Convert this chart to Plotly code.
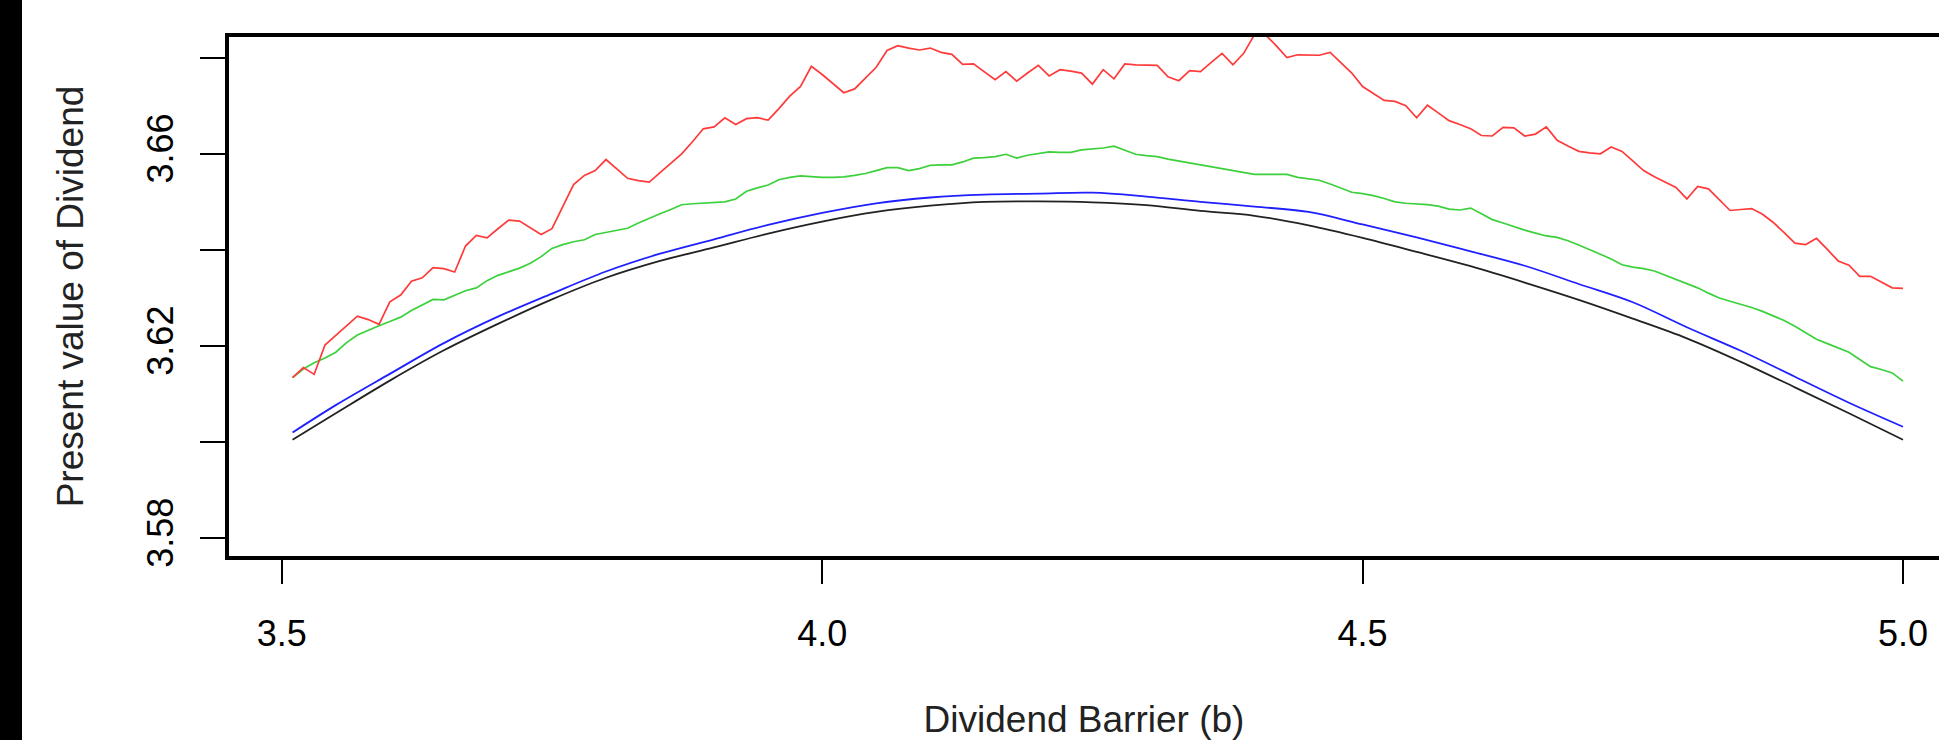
import plotly.graph_objects as go

# ---------------- data ----------------
x_smooth = [3.51, 3.55, 3.60, 3.65, 3.70, 3.75, 3.80, 3.85, 3.90, 3.95,
            4.00, 4.05, 4.10, 4.15, 4.20, 4.25, 4.30, 4.35, 4.40, 4.45,
            4.50, 4.55, 4.60, 4.65, 4.70, 4.75, 4.80, 4.85, 4.90, 4.95, 5.00]

black_vals = [3.6005, 3.6060, 3.6128, 3.6191, 3.6246, 3.6297, 3.6342, 3.6377, 3.6405, 3.6434,
              3.6459, 3.6479, 3.6492, 3.6500, 3.6501, 3.6499, 3.6493, 3.6481, 3.6471, 3.6451,
              3.6425, 3.6396, 3.6366, 3.6332, 3.6296, 3.6257, 3.6216, 3.6167, 3.6114, 3.6060, 3.6005]

blue_vals = [3.6020, 3.6077, 3.6142, 3.6206, 3.6261, 3.6309, 3.6355, 3.6392, 3.6422, 3.6452,
             3.6477, 3.6497, 3.6509, 3.6515, 3.6517, 3.6519, 3.6511, 3.6500, 3.6490, 3.6479,
             3.6453, 3.6426, 3.6397, 3.6367, 3.6329, 3.6291, 3.6239, 3.6190, 3.6136, 3.6082, 3.6032]

x_sim = [round(3.51 + 0.01 * i, 2) for i in range(150)]

red_vals = [
    3.6134, 3.6155, 3.6141, 3.6202, 3.6222, 3.6243, 3.6262, 3.6255, 3.6245, 3.6292,
    3.6306, 3.6335, 3.6342, 3.6363, 3.6361, 3.6354, 3.6408, 3.6430, 3.6425, 3.6444,
    3.6462, 3.6460, 3.6446, 3.6432, 3.6444, 3.6490, 3.6536, 3.6555, 3.6565, 3.6588,
    3.6568, 3.6549, 3.6544, 3.6541, 3.6561, 3.6580, 3.6600, 3.6625, 3.6652, 3.6656,
    3.6675, 3.6661, 3.6673, 3.6675, 3.6670, 3.6694, 3.6720, 3.6740, 3.6782, 3.6765,
    3.6745, 3.6727, 3.6735, 3.6757, 3.6780, 3.6815, 3.6825, 3.6820, 3.6816, 3.6820,
    3.6811, 3.6807, 3.6786, 3.6787, 3.6770, 3.6754, 3.6771, 3.6751, 3.6768, 3.6784,
    3.6762, 3.6775, 3.6772, 3.6768, 3.6745, 3.6775, 3.6756, 3.6787, 3.6785, 3.6784,
    3.6784, 3.6760, 3.6752, 3.6773, 3.6771, 3.6790, 3.6809, 3.6785, 3.6809, 3.6848,
    3.6848, 3.6825, 3.6800, 3.6806, 3.6806, 3.6805, 3.6811, 3.6790, 3.6768, 3.6740,
    3.6725, 3.6711, 3.6709, 3.6700, 3.6675, 3.6701, 3.6685, 3.6669, 3.6661, 3.6652,
    3.6638, 3.6637, 3.6655, 3.6654, 3.6637, 3.6641, 3.6656, 3.6628, 3.6616, 3.6605,
    3.6602, 3.6600, 3.6614, 3.6605, 3.6585, 3.6565, 3.6552, 3.6541, 3.6530, 3.6506,
    3.6532, 3.6527, 3.6505, 3.6482, 3.6484, 3.6486, 3.6474, 3.6457, 3.6436, 3.6414,
    3.6411, 3.6424, 3.6401, 3.6377, 3.6368, 3.6345, 3.6345, 3.6333, 3.6321, 3.6320]

green_vals = [
    3.6134, 3.6152, 3.6165, 3.6175, 3.6187, 3.6207, 3.6223, 3.6233, 3.6242, 3.6251,
    3.6260, 3.6274, 3.6286, 3.6297, 3.6296, 3.6306, 3.6315, 3.6321, 3.6336, 3.6347,
    3.6355, 3.6362, 3.6372, 3.6386, 3.6403, 3.6411, 3.6417, 3.6421, 3.6432, 3.6436,
    3.6440, 3.6445, 3.6456, 3.6466, 3.6475, 3.6484, 3.6494, 3.6496, 3.6497, 3.6499,
    3.6500, 3.6506, 3.6522, 3.6529, 3.6535, 3.6546, 3.6551, 3.6554, 3.6552, 3.6551,
    3.6551, 3.6552, 3.6555, 3.6559, 3.6565, 3.6571, 3.6571, 3.6565, 3.6569, 3.6576,
    3.6577, 3.6577, 3.6583, 3.6591, 3.6592, 3.6594, 3.6599, 3.6591, 3.6597, 3.6601,
    3.6604, 3.6603, 3.6603, 3.6608, 3.6610, 3.6612, 3.6616, 3.6607, 3.6599, 3.6596,
    3.6594, 3.6589, 3.6585, 3.6581, 3.6578, 3.6574, 3.6569, 3.6565, 3.6561, 3.6557,
    3.6557, 3.6557, 3.6557, 3.6551, 3.6548, 3.6545, 3.6537, 3.6528, 3.6520, 3.6517,
    3.6513, 3.6507, 3.6500, 3.6497, 3.6496, 3.6494, 3.6491, 3.6485, 3.6483, 3.6487,
    3.6475, 3.6463, 3.6456, 3.6448, 3.6441, 3.6435, 3.6429, 3.6426, 3.6419, 3.6410,
    3.6401, 3.6391, 3.6381, 3.6369, 3.6364, 3.6361, 3.6356, 3.6347, 3.6338, 3.6330,
    3.6321, 3.6310, 3.6300, 3.6293, 3.6287, 3.6280, 3.6272, 3.6262, 3.6253, 3.6241,
    3.6227, 3.6214, 3.6205, 3.6196, 3.6187, 3.6172, 3.6157, 3.6151, 3.6144, 3.6127]

x_tick_vals = [3.5, 4.0, 4.5, 5.0]
x_tick_text = ["3.5", "4.0", "4.5", "5.0"]
y_tick_vals = [3.58, 3.60, 3.62, 3.64, 3.66, 3.68]
y_tick_text = ["3.58", "", "3.62", "", "3.66", ""]

x_title = "Dividend Barrier (b)"
y_title = "Present value of Dividend"

# ---------------- figure ----------------
W, H = 1939, 740
ML, MT, MB = 229, 37, 184
PW = W - ML

fig = go.Figure()
fig.add_trace(go.Scatter(x=x_smooth, y=black_vals, mode="lines", line=dict(color="#222222", width=1.8, shape="spline"), name="black"))
fig.add_trace(go.Scatter(x=x_smooth, y=blue_vals, mode="lines", line=dict(color="#2020FF", width=1.8, shape="spline"), name="blue"))
fig.add_trace(go.Scatter(x=x_sim, y=green_vals, mode="lines", line=dict(color="#3CD03C", width=1.7), name="green"))
fig.add_trace(go.Scatter(x=x_sim, y=red_vals, mode="lines", line=dict(color="#FF3A3A", width=1.7), name="red"))

font_ticks = dict(family="Liberation Sans, Arial, sans-serif", size=36, color="#000000")
font_title = dict(family="Liberation Sans, Arial, sans-serif", size=37, color="#222222")

fig.update_layout(
    width=W, height=H,
    margin=dict(l=ML, r=0, t=MT, b=MB, pad=0),
    paper_bgcolor="white", plot_bgcolor="white",
    showlegend=False,
    xaxis=dict(
        range=[3.4512, 5.0333], tickvals=x_tick_vals, ticktext=x_tick_text,
        ticks="outside", ticklen=24, tickwidth=2, tickcolor="black",
        ticklabelstandoff=19,
        showline=True, linecolor="black", linewidth=4, mirror=True,
        showgrid=False, zeroline=False, tickfont=font_ticks,
        title=dict(text=x_title, font=font_title, standoff=54),
        automargin=False,
    ),
    yaxis=dict(
        range=[3.5763, 3.6843], tickvals=y_tick_vals, ticktext=y_tick_text,
        ticks="outside", ticklen=25, tickwidth=2, tickcolor="black", tickangle=-90,
        ticklabelstandoff=13,
        showline=True, linecolor="black", linewidth=4, mirror=False,
        showgrid=False, zeroline=False, tickfont=font_ticks,
        title=dict(text=y_title, font=font_title, standoff=46),
        automargin=False,
    ),
    shapes=[dict(type="rect", xref="paper", yref="paper",
                 x0=-ML / PW, x1=(22 - ML) / PW, y0=-0.4, y1=1.1,
                 fillcolor="black", line=dict(width=0), layer="below")],
)

fig.write_html("out.html", config={"displayModeBar": False},
               post_script="document.body.style.margin='0px';")
